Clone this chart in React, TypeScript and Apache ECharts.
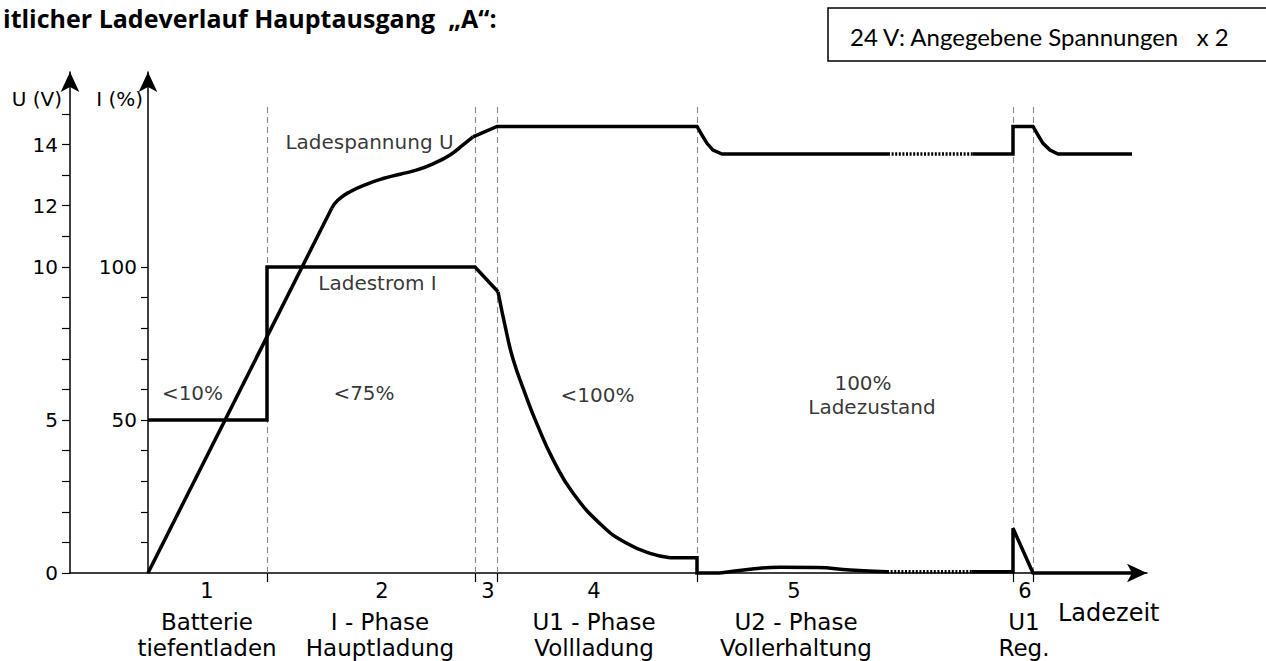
import React, { useEffect, useRef } from "react";
import * as echarts from "echarts";

// ---------- data (x = Ladezeit, arbitrary units; U in V; I in %) ----------
const uRise: number[][] = [[0, 0], [18.37, 11.92]];
const uKnee: number[][] = [
  [18.37, 11.92], [19.0, 12.19], [20.2, 12.46], [21.9, 12.71], [23.5, 12.89],
  [25.2, 13.03], [26.9, 13.17], [28.5, 13.37], [30.2, 13.66], [31.5, 13.99], [32.5, 14.25],
];
const uHold: number[][] = [
  [32.5, 14.25], [34.9, 14.59], [54.9, 14.59], [55.4, 14.31], [55.9, 14.04],
  [56.5, 13.82], [57.4, 13.69], [74.0, 13.69],
];
const uGap: number[][] = [[74.0, 13.69], [82.5, 13.69]];
const uRegen: number[][] = [
  [82.5, 13.69], [86.5, 13.69], [86.5, 14.59], [88.5, 14.59], [89.0, 14.31],
  [89.5, 14.04], [90.2, 13.82], [91.0, 13.69], [98.4, 13.69],
];

const iStep: number[][] = [[0, 50], [11.9, 50], [11.9, 100], [32.7, 100], [35.0, 91.9]];
const iDecay: number[][] = [
  [35.0, 91.9], [35.87, 78.3], [36.53, 69.6], [37.7, 58.7], [38.87, 48.9], [40.53, 36.9],
  [42.53, 26.0], [45.53, 15.1], [47.87, 9.7], [50.2, 6.4], [52.2, 5.0],
];
const iTail: number[][] = [[52.2, 5.0], [54.9, 5.0], [54.9, 0], [57.2, 0]];
const iBump: number[][] = [[57.2, 0], [60.2, 1.2], [63.2, 1.9], [66.9, 1.8], [70.2, 1.0], [73.9, 0.4]];
const iGap: number[][] = [[73.9, 0.4], [82.4, 0.4]];
const iRegen: number[][] = [[82.4, 0.4], [86.5, 0.4], [86.5, 14.6], [88.5, 0], [98.4, 0]];

const phaseBounds = [11.9, 32.7, 34.9, 54.9, 86.5, 88.5];
const phaseBoundTop = 15.3;
const phaseNumberX = [5.9, 23.4, 34.0, 44.6, 64.6, 87.7];
const phaseNumbers = ["1", "2", "3", "4", "5", "6"];
const phaseNameX = [5.9, 23.2, 44.6, 64.8, 87.6];
const phaseNames: string[][] = [
  ["Batterie", "tiefentladen"],
  ["I - Phase", "Hauptladung"],
  ["U1 - Phase", "Vollladung"],
  ["U2 - Phase", "Vollerhaltung"],
  ["U1", "Reg."],
];

const uTickValues = [0, 1, 2, 3, 4, 5, 6, 7, 8, 9, 10, 11, 12, 13, 14, 15];
const uLabelValues = [0, 5, 10, 12, 14];
const iTickValues = [10, 20, 30, 40, 50, 60, 70, 80, 90, 100];
const iLabelValues = [50, 100];

const annotationNames = ["Ladespannung U", "Ladestrom I", "<10%", "<75%", "<100%", "100%", "Ladezustand"];
const annotationX = [22.15, 22.95, 4.45, 21.6, 44.95, 71.5, 72.4];
const annotationU = [14.08, 9.48, 5.88, 5.88, 5.82, 6.21, 5.42];

const FONT = "DejaVu Sans";
const X_MIN = -7.8;
const X_MAX = 99.9;

const findIdx = (arr: number[], v: number) => arr.findIndex((p) => Math.abs(p - v) < 1e-6);

export default function App() {
  const ref = useRef<HTMLDivElement>(null);
  useEffect(() => {
    if (!ref.current) return;
    const chart = echarts.init(ref.current, undefined, { renderer: "svg" });

    const curve = (name: string, data: number[][], axis: number, opts: any = {}) => ({
      type: "line",
      name,
      xAxisIndex: 0,
      yAxisIndex: axis,
      data,
      symbol: "none",
      silent: true,
      z: 5,
      lineStyle: { color: "#000", width: 3.5, cap: "butt", join: "miter", ...(opts.lineStyle || {}) },
      smooth: opts.smooth || false,
      clip: false,
    });

    const dotted = { type: [2, 1.6], width: 3.5 };

    const option: any = {
      animation: false,
      backgroundColor: "#fff",
      grid: { left: 70, right: 119, top: 72, bottom: 88, containLabel: false },
      xAxis: [
        {
          type: "value",
          min: X_MIN,
          max: X_MAX,
          splitLine: { show: false },
          axisLine: {
            show: true,
            onZero: false,
            symbol: ["none", "arrow"],
            symbolSize: [14, 20],
            lineStyle: { color: "#000", width: 1.5 },
          },
          axisTick: { show: true, customValues: phaseBounds, length: 9, lineStyle: { color: "#000", width: 1.2 } },
          axisLabel: {
            show: true,
            customValues: phaseNameX,
            margin: 36,
            color: "#000",
            fontFamily: FONT,
            fontSize: 23,
            lineHeight: 26,
            hideOverlap: false,
            formatter: (v: number) => {
              const idx = findIdx(phaseNameX, v);
              return idx < 0 ? "" : phaseNames[idx].join("\n");
            },
          },
        },
        {
          type: "value",
          min: X_MIN,
          max: X_MAX,
          position: "bottom",
          splitLine: { show: false },
          axisLine: { show: false, onZero: false },
          axisTick: { show: false },
          axisLabel: {
            show: true,
            customValues: phaseNumberX,
            margin: 7,
            color: "#000",
            fontFamily: FONT,
            fontSize: 21,
            hideOverlap: false,
            formatter: (v: number) => {
              const idx = findIdx(phaseNumberX, v);
              return idx < 0 ? "" : phaseNumbers[idx];
            },
          },
        },
      ],
      yAxis: [
        {
          type: "value",
          position: "left",
          min: 0,
          max: 16.37,
          offset: 0,
          splitLine: { show: false },
          axisLine: {
            show: true,
            onZero: false,
            symbol: ["none", "arrow"],
            symbolSize: [14, 20],
            lineStyle: { color: "#000", width: 1.5 },
          },
          axisTick: { show: true, customValues: uTickValues, length: 8, lineStyle: { color: "#000", width: 1.2 } },
          axisLabel: {
            show: true,
            customValues: uLabelValues,
            margin: 12,
            color: "#000",
            fontSize: 20,
            fontFamily: FONT,
          },
        },
        {
          type: "value",
          position: "left",
          min: 0,
          max: 163.7,
          offset: -78,
          splitLine: { show: false },
          axisLine: {
            show: true,
            onZero: false,
            symbol: ["none", "arrow"],
            symbolSize: [14, 20],
            lineStyle: { color: "#000", width: 1.5 },
          },
          axisTick: { show: true, customValues: iTickValues, length: 7, lineStyle: { color: "#000", width: 1.2 } },
          axisLabel: {
            show: true,
            customValues: iLabelValues,
            margin: 11,
            color: "#000",
            fontSize: 20,
            fontFamily: FONT,
          },
        },
      ],
      series: [
        {
          type: "line",
          name: "phases",
          xAxisIndex: 0,
          yAxisIndex: 0,
          data: [],
          silent: true,
          markLine: {
            silent: true,
            symbol: "none",
            label: { show: false },
            lineStyle: { color: "#8a8a8a", type: [6, 4], width: 1.1 },
            data: phaseBounds.map((b) => [{ coord: [b, 0] }, { coord: [b, phaseBoundTop] }]),
          },
        },
        curve("Ladespannung U", uRise, 0),
        curve("Ladespannung U", uKnee, 0, { smooth: 0.5 }),
        curve("Ladespannung U", uHold, 0),
        curve("Ladespannung U", uGap, 0, { lineStyle: dotted }),
        curve("Ladespannung U", uRegen, 0),
        curve("Ladestrom I", iStep, 1),
        curve("Ladestrom I", iDecay, 1, { smooth: 0.5 }),
        curve("Ladestrom I", iTail, 1),
        curve("Ladestrom I", iBump, 1, { smooth: 0.5 }),
        curve("Ladestrom I", iGap, 1, { lineStyle: dotted }),
        curve("Ladestrom I", iRegen, 1),
        {
          type: "scatter",
          name: "labels",
          xAxisIndex: 0,
          yAxisIndex: 0,
          silent: true,
          symbolSize: 1,
          itemStyle: { color: "rgba(0,0,0,0)" },
          data: annotationNames.map((n, i) => ({ name: n, value: [annotationX[i], annotationU[i]] })),
          label: {
            show: true,
            position: "inside",
            formatter: "{b}",
            fontSize: 20,
            fontFamily: FONT,
            color: "#000",
          },
          z: 6,
        },
      ],
      graphic: [
        {
          type: "text",
          x: 3,
          y: 18,
          style: {
            text: "itlicher Ladeverlauf Hauptausgang  \u201EA\u201C:",
            font: "bold 25px 'Open Sans'",
            fill: "#000",
            verticalAlign: "middle",
          },
        },
        {
          type: "rect",
          shape: { x: 828, y: 8, width: 450, height: 53 },
          style: { fill: "#fff", stroke: "#000", lineWidth: 1.5 },
        },
        {
          type: "text",
          x: 850,
          y: 36,
          style: {
            text: "24 V: Angegebene Spannungen   x 2",
            font: "24px Lato",
            fill: "#000",
            verticalAlign: "middle",
          },
        },
        {
          type: "text",
          x: 62,
          y: 99,
          style: { text: "U (V)", font: `20px '${FONT}'`, fill: "#000", align: "right", verticalAlign: "middle" },
        },
        {
          type: "text",
          x: 143,
          y: 99,
          style: { text: "I (%)", font: `20px '${FONT}'`, fill: "#000", align: "right", verticalAlign: "middle" },
        },
        {
          type: "text",
          x: 1058,
          y: 613,
          style: { text: "Ladezeit", font: `24px '${FONT}'`, fill: "#000", verticalAlign: "middle" },
        },
      ],
    };

    chart.setOption(option);
    return () => chart.dispose();
  }, []);

  return (
    <div
      ref={ref}
      style={{ position: "fixed", left: 0, top: 0, width: 1266, height: 661, background: "#fff" }}
    />
  );
}
